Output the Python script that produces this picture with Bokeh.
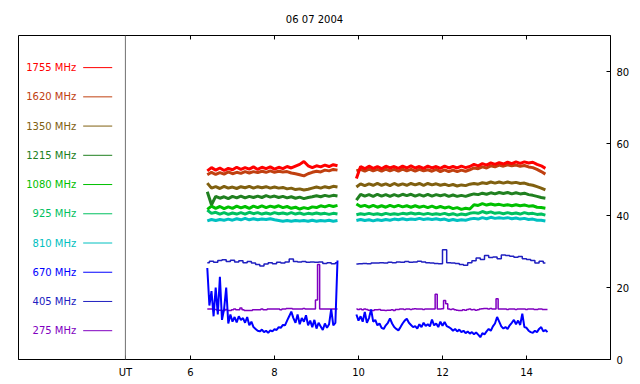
import numpy as np
from bokeh.plotting import figure
from bokeh.models import Range1d, LinearAxis, FixedTicker, Span, CustomJSTickFormatter
from bokeh.core.properties import value
from bokeh.embed import file_html
from bokeh.resources import INLINE

# ---------------- data ----------------
TITLE = "06 07 2004"
UT_LABEL = "UT"
UT_X = 4.45
X_TICKS = [6, 8, 10, 12, 14]
Y_TICKS = [0, 20, 40, 60, 80]

FREQ_LABELS = ["275 MHz", "405 MHz", "670 MHz", "810 MHz", "925 MHz",
               "1080 MHz", "1215 MHz", "1350 MHz", "1620 MHz", "1755 MHz"]
COLORS = ["#8000c0", "#2020c0", "#0000ff", "#00c0c0", "#00c060",
          "#00c000", "#208020", "#806010", "#c04010", "#ff0000"]

SEG_START = [6.4, 9.95]      # UT hours, start of each observing segment
COARSE_STEP = 0.1
FINE_STEP = 0.05

MHZ1755 = [
    [52.4, 53.3, 52.6, 53.2, 52.5, 53.1, 52.7, 53.4, 52.8, 53.3, 52.9, 53.5, 52.8, 53.4, 53.0, 53.5,
     52.9, 53.4, 53.0, 53.6, 53.2, 53.7, 54.2, 55.0, 53.8, 53.3, 53.8, 53.5, 54.0, 53.6, 54.1, 53.8],
    [50.3, 53.6, 53.0, 53.7, 53.1, 53.6, 53.0, 53.7, 53.2, 53.6, 53.1, 53.7, 53.2, 53.8, 53.2, 53.6,
     53.1, 53.7, 53.2, 53.6, 53.1, 53.7, 53.2, 53.6, 53.2, 53.7, 53.3, 53.6, 54.2, 53.8, 54.4, 54.0,
     54.6, 54.2, 54.7, 54.3, 54.8, 54.4, 54.9, 54.5, 54.9, 54.6, 54.8, 54.2, 53.8, 53.1],
]
MHZ1620 = [
    [51.3, 52.0, 51.4, 51.9, 51.5, 52.1, 51.6, 52.0, 51.7, 52.2, 51.8, 52.2, 51.9, 52.3, 52.0, 52.4,
     52.0, 52.3, 52.1, 52.2, 51.8, 51.6, 51.3, 51.0, 51.6, 52.0, 52.3, 52.1, 52.6, 52.4, 52.8, 52.6],
    [52.4, 52.8, 52.3, 52.9, 52.4, 52.8, 52.3, 52.9, 52.4, 52.8, 52.3, 52.9, 52.4, 52.8, 52.3, 52.8,
     52.4, 52.7, 52.3, 52.8, 52.2, 52.7, 52.2, 52.6, 52.2, 52.6, 52.3, 52.7, 53.2, 53.0, 53.5, 53.2,
     53.8, 53.5, 54.0, 53.7, 54.1, 53.8, 54.0, 53.7, 53.9, 53.5, 53.3, 52.8, 52.2, 51.5],
]
MHZ1350 = [
    [49.0, 47.6, 48.0, 47.5, 48.1, 47.6, 47.9, 47.5, 48.0, 47.7, 48.1, 47.6, 48.0, 47.7, 48.0, 47.6,
     47.9, 47.6, 47.8, 47.4, 47.6, 47.2, 47.4, 47.1, 47.3, 47.6, 47.9, 47.6, 48.0, 47.7, 48.1, 47.9],
    [47.9, 48.8, 48.3, 48.8, 48.4, 48.9, 48.4, 48.8, 48.3, 48.9, 48.4, 48.8, 48.4, 48.9, 48.5, 48.9,
     48.4, 48.9, 48.5, 48.8, 48.4, 48.7, 48.3, 48.6, 48.2, 48.5, 48.3, 48.7, 48.9, 48.7, 49.1, 48.9,
     49.3, 49.0, 49.3, 49.0, 49.3, 49.0, 49.2, 48.9, 49.0, 48.6, 48.4, 48.0, 47.6, 47.1],
]
MHZ1215 = [
    [46.6, 43.0, 45.3, 44.8, 45.2, 44.7, 45.3, 44.9, 45.4, 44.9, 45.3, 45.0, 45.4, 45.0, 45.5, 45.1,
     45.4, 45.0, 45.3, 44.9, 45.2, 44.8, 45.1, 44.7, 45.0, 45.2, 45.5, 45.2, 45.6, 45.3, 45.6, 45.4],
    [44.3, 45.9, 45.4, 45.8, 45.3, 45.9, 45.4, 45.8, 45.3, 45.8, 45.4, 45.9, 45.5, 45.9, 45.4, 45.8,
     45.4, 45.9, 45.4, 45.8, 45.5, 45.8, 45.3, 45.7, 45.3, 45.6, 45.3, 45.7, 46.0, 45.8, 46.2, 45.9,
     46.3, 46.0, 46.4, 46.1, 46.4, 46.0, 46.3, 46.0, 46.2, 45.8, 45.6, 45.3, 45.0, 44.8],
]
MHZ1080 = [
    [41.7, 42.6, 42.0, 42.5, 41.9, 42.4, 42.0, 42.6, 42.1, 42.5, 42.0, 42.6, 42.2, 42.7, 42.2, 42.6,
     42.3, 42.7, 42.2, 42.5, 42.0, 42.3, 41.8, 42.2, 41.9, 42.4, 42.2, 42.7, 42.4, 42.8, 42.5, 42.8],
    [43.2, 42.5, 42.8, 42.3, 42.8, 42.3, 42.7, 42.3, 42.8, 42.4, 42.8, 42.4, 42.7, 42.3, 42.7, 42.3,
     42.6, 42.2, 42.6, 42.1, 42.5, 42.1, 42.4, 41.9, 42.2, 41.7, 42.0, 41.8, 43.0, 42.8, 43.3, 42.9,
     43.2, 42.9, 43.1, 42.8, 43.0, 42.7, 43.0, 42.7, 42.9, 42.6, 42.7, 42.3, 42.2, 42.0],
]
MHZ925 = [
    [41.5, 40.6, 40.9, 40.4, 40.8, 40.3, 40.7, 40.4, 40.8, 40.4, 40.9, 40.5, 40.8, 40.4, 40.7, 40.4,
     40.8, 40.5, 40.7, 40.4, 40.8, 40.4, 40.7, 40.3, 40.6, 40.4, 40.7, 40.4, 40.6, 40.3, 40.6, 40.4],
    [40.2, 40.5, 40.3, 40.6, 40.3, 40.5, 40.2, 40.6, 40.3, 40.5, 40.3, 40.6, 40.4, 40.7, 40.4, 40.6,
     40.3, 40.6, 40.3, 40.5, 40.3, 40.6, 40.2, 40.5, 40.1, 40.4, 40.2, 40.6, 40.8, 40.6, 41.1, 40.7,
     41.0, 40.6, 40.8, 40.5, 40.8, 40.5, 40.7, 40.4, 40.8, 40.5, 40.6, 40.3, 40.4, 40.1],
]
MHZ810 = [
    [38.5, 38.9, 38.6, 38.9, 38.7, 39.0, 38.7, 39.1, 38.8, 39.2, 38.8, 39.1, 38.8, 39.0, 38.9, 39.1,
     38.8, 38.6, 38.4, 38.6, 38.4, 38.6, 38.5, 38.6, 38.4, 38.7, 38.4, 38.6, 38.5, 38.7, 38.4, 38.6],
    [38.6, 38.9, 38.6, 38.8, 38.5, 38.8, 38.6, 38.9, 38.7, 39.0, 38.8, 39.1, 38.8, 39.0, 38.9, 39.2,
     38.9, 39.1, 38.9, 39.1, 38.8, 39.0, 38.6, 38.9, 38.6, 38.8, 38.7, 39.0, 39.2, 39.0, 39.4, 39.1,
     39.5, 39.2, 39.4, 39.2, 39.4, 39.1, 39.3, 39.0, 39.2, 38.9, 39.0, 38.7, 38.7, 38.5],
]
MHZ670 = [   # fine sampling
    [25.4, 15.0, 19.0, 12.0, 20.0, 12.5, 23.0, 11.0, 14.0, 20.0, 10.0, 12.5, 10.5, 11.8, 10.3, 12.0,
     11.0, 11.5, 10.2, 11.8, 9.5, 10.5, 9.0, 8.5, 8.0, 7.8, 8.3, 7.6, 8.0, 7.4, 8.1, 7.8,
     8.4, 8.2, 9.0, 8.8, 9.6, 9.5, 10.8, 12.0, 13.3, 11.5, 10.2, 12.5, 9.8, 11.5, 10.5, 12.3,
     9.5, 10.8, 9.0, 11.0, 8.6, 10.2, 9.2, 8.2, 10.0, 8.8, 9.8, 14.0, 9.5, 10.2, 27.5],
    [12.5, 10.8, 12.0, 10.5, 13.2, 10.2, 11.5, 13.9,
     10.5, 11.0, 9.5, 10.0, 8.8, 8.5, 9.5, 10.2,
     11.4, 10.0, 9.0, 8.5, 8.1, 9.0, 10.0, 10.8,
     11.3, 10.2, 9.6, 9.0, 9.3, 8.6, 9.8, 9.0,
     10.2, 9.3, 9.8, 9.2, 11.1, 9.5, 10.0, 9.0,
     10.5, 9.4, 10.4, 9.3, 9.0, 8.6, 8.0, 8.5,
     7.8, 8.3, 7.6, 8.0, 7.3, 7.8, 7.2, 7.6,
     7.0, 7.5, 6.9, 6.2, 7.3, 7.0, 7.8, 8.5,
     8.0, 9.2, 10.0, 11.8, 10.5, 9.2, 8.6, 9.0,
     8.5, 9.5, 10.2, 11.0, 9.8, 10.8, 9.6, 12.7,
     9.0, 8.8, 8.0, 7.6, 7.4, 8.0, 7.6, 8.5,
     9.0, 7.8, 8.2, 7.6],
]
MHZ405 = [
    [26.9, 27.3, 27.0, 27.5, 27.7, 27.2, 27.6, 27.1, 27.4, 26.9, 27.2, 26.8, 26.4, 26.0, 26.5, 26.9,
     26.6, 27.0, 26.8, 27.1, 27.9, 27.2, 27.1, 27.2, 27.0, 27.1, 27.0, 27.1, 26.7, 26.9, 26.6, 26.9],
    [26.5, 26.6, 26.7, 26.6, 26.8, 26.8, 26.9, 26.8, 27.0, 26.9, 27.1, 27.0, 27.2, 27.0, 27.1, 27.3,
     27.1, 26.9, 26.8, 26.7, 26.6, 30.5, 26.9, 26.8, 26.7, 26.4, 26.2, 26.9, 27.4, 28.2, 27.8, 28.9,
     28.3, 28.5, 28.0, 29.0, 28.9, 28.7, 28.4, 28.6, 28.0, 27.8, 27.5, 26.8, 27.3, 26.8],
]
MHZ275 = [   # fine sampling
    [14.0, 14.0, 14.0, 13.9, 13.9, 13.7, 13.7, 13.6, 13.6, 13.9, 13.6, 13.6, 13.8, 14.0, 13.8, 13.8,
     14.3, 13.8, 13.6, 13.6, 13.6, 13.6, 13.8, 13.8, 13.8, 13.8, 14.0, 13.8, 13.8, 14.0, 14.0, 14.0,
     14.0, 14.0, 14.0, 13.8, 14.0, 14.0, 14.2, 14.2, 14.2, 14.0, 14.0, 14.0, 14.0, 14.0, 14.2, 14.0,
     14.0, 14.0, 14.0, 14.0, 16.5, 26.4, 14.0, 14.0, 14.0, 14.0, 14.0, 14.0, 14.0, 14.0, 14.0],
    [14.0, 13.9, 14.0, 13.8, 14.0, 13.9, 13.7, 13.6,
     13.6, 13.8, 13.8, 13.9, 13.7, 13.7, 13.6, 13.7,
     13.7, 13.8, 13.6, 13.9, 13.9, 14.0, 14.0, 13.9,
     14.0, 14.0, 13.9, 14.0, 14.1, 14.0, 14.0, 14.0,
     13.9, 14.0, 14.0, 14.0, 14.0, 14.0, 18.1, 14.0,
     14.0, 14.1, 16.4, 15.5, 14.0, 13.9, 14.0, 13.8,
     13.7, 13.6, 13.6, 13.8, 13.7, 13.9, 14.0, 13.8,
     13.9, 13.7, 13.8, 14.0, 14.1, 14.2, 14.2, 14.0,
     14.2, 14.0, 14.0, 16.9, 14.0, 14.0, 14.0, 14.0,
     13.9, 14.0, 14.0, 14.0, 13.9, 14.0, 14.0, 14.0,
     14.0, 13.9, 14.0, 14.0, 14.0, 13.9, 13.9, 14.0,
     14.0, 13.9, 13.9, 13.9],
]

SERIES = [MHZ275, MHZ405, MHZ670, MHZ810, MHZ925, MHZ1080, MHZ1215, MHZ1350, MHZ1620, MHZ1755]
STEPS = [FINE_STEP, COARSE_STEP, FINE_STEP] + [COARSE_STEP] * 7
STAIRS = [True, True, False] + [False] * 7
WIDTHS = [1.5, 1.5, 2] + [3] * 7

# ---------------- layout ----------------
FONT = "DejaVu Sans"
LEG_Y0, LEG_DY = 8.0, 8.12
LEG_TEXT_X, LEG_LINE_X0, LEG_LINE_X1 = 3.28, 3.445, 4.136
Y_MAX = 90
TOP_TICK_LEN = 1.1   # in y units (about 4 px)

p = figure(width=640, height=384, output_backend="svg", toolbar_location=None,
           x_range=Range1d(1.905, 16.0), y_range=Range1d(0, Y_MAX),
           x_axis_location=None, y_axis_location=None,
           min_border_left=18, min_border_right=30, min_border_top=35, min_border_bottom=25)
p.grid.grid_line_color = None
p.outline_line_color = "black"
p.outline_line_alpha = 1.0
p.outline_line_width = 1
p.background_fill_color = "white"
p.border_fill_color = "white"

p.title.text = TITLE
p.title.align = "center"
p.title.text_font = FONT
p.title.text_font_size = "10px"
p.title.text_font_style = "normal"
p.title.text_color = "black"
p.title.standoff = 21

def style_axis(ax, standoff):
    ax.major_tick_in = 4
    ax.major_tick_out = 0
    ax.minor_tick_line_color = None
    ax.axis_line_color = "black"
    ax.major_tick_line_color = "black"
    ax.major_label_standoff = standoff
    ax.major_label_text_font = FONT
    ax.major_label_text_font_size = "10px"
    ax.major_label_text_color = "black"

bottom = LinearAxis(ticker=FixedTicker(ticks=[UT_X] + X_TICKS),
                    formatter=CustomJSTickFormatter(args=dict(ut=UT_LABEL),
                                                    code="return tick < 5 ? ut : tick.toFixed(0);"))
style_axis(bottom, 7)
p.add_layout(bottom, "below")

right = LinearAxis(ticker=FixedTicker(ticks=Y_TICKS))
style_axis(right, 6)
p.add_layout(right, "right")

# inner ticks along the top edge
p.segment(x0=X_TICKS, y0=[Y_MAX - TOP_TICK_LEN] * len(X_TICKS), x1=X_TICKS, y1=[Y_MAX] * len(X_TICKS),
          line_color="black", line_width=1)

p.add_layout(Span(location=UT_X, dimension="height", line_color="#707070", line_width=1))

# data
for vals, step, col, stairs, lw in zip(SERIES, STEPS, COLORS, STAIRS, WIDTHS):
    for start, seg in zip(SEG_START, vals):
        t = start + step * np.arange(len(seg))
        if stairs:
            p.step(t, seg, mode="center", line_color=col, line_width=lw)
        else:
            p.line(t, seg, line_color=col, line_width=lw)

# legend
leg_y = [LEG_Y0 + LEG_DY * i for i in range(len(FREQ_LABELS))]
p.text(x=[LEG_TEXT_X] * len(FREQ_LABELS), y=leg_y, text=FREQ_LABELS, text_color=COLORS,
       text_align="right", text_baseline="middle", text_font=value(FONT), text_font_size="10px")
p.segment(x0=[LEG_LINE_X0] * len(leg_y), y0=leg_y, x1=[LEG_LINE_X1] * len(leg_y), y1=leg_y,
          line_color=COLORS, line_width=1)

open("out.html", "w").write(file_html(p, INLINE))
